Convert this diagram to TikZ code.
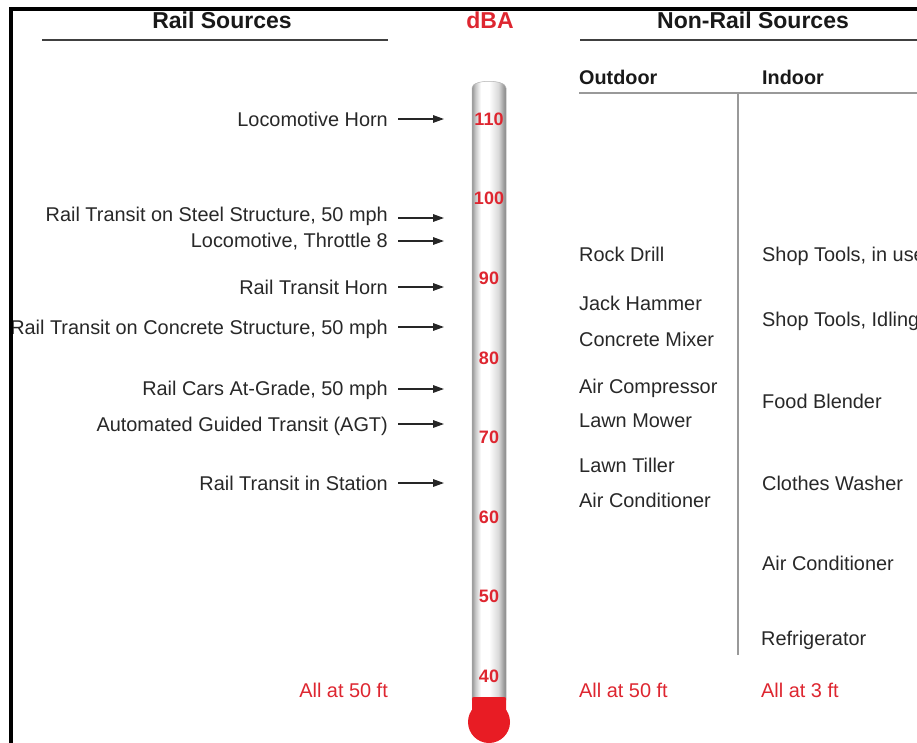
\documentclass[tikz,border=0pt]{standalone}
\usepackage{fontspec}
\setmainfont{Liberation Sans}
\usetikzlibrary{arrows.meta}
\definecolor{thred}{RGB}{232,28,36}
\definecolor{txtred}{RGB}{222,38,48}
\definecolor{txtgray}{RGB}{40,40,40}
\pgfdeclarehorizontalshading{tubeshade}{100bp}{color(0bp)=(black!42); color(25bp)=(black!42); color(30bp)=(black!22); color(38bp)=(white); color(50bp)=(white); color(64bp)=(black!15); color(72bp)=(black!40); color(75bp)=(black!48); color(100bp)=(black!48)}
\begin{document}
\begin{tikzpicture}[x=1pt,y=-1pt,
  lab/.style={font=\fontsize{19.9}{23}\selectfont, inner sep=0pt, text=txtgray},
  hdr/.style={font=\fontsize{23}{27}\selectfont\bfseries, inner sep=0pt, text=black!90},
  subhdr/.style={font=\fontsize{19.8}{23}\selectfont\bfseries, inner sep=0pt, text=black!90},
  num/.style={font=\fontsize{18}{21}\selectfont\bfseries, inner sep=0pt, text=txtred},
  redlab/.style={font=\fontsize{19.9}{23}\selectfont, inner sep=0pt, text=txtred},
  arr/.style={-{Triangle[length=11pt,width=7.5pt]}, line width=1.5pt, black!85},
  rule/.style={line width=2pt, black!75},
  gline/.style={line width=1.5pt, black!40}]
\useasboundingbox (0,0) rectangle (917,742);
\clip (0,0) rectangle (917,742);
\fill[white] (0,0) rectangle (917,742);

% headers
\node[hdr, anchor=base] (hrail) at (222,28) {Rail Sources};
\node[hdr, anchor=base, text=txtred] (hdba) at (490,28) {dBA};
\node[hdr, anchor=base] (hnon) at (753,28) {Non-Rail Sources};
\draw[rule] (42,40) -- (388,40);
\draw[rule] (580,40) -- (920,40);

% thermometer
\shade[shading=tubeshade] (472,700) -- (472,88) .. controls (472,79) and (506,79) .. (506,88) -- (506,700) -- cycle;
\draw[black!30, line width=0.5pt] (472,700) -- (472,88) .. controls (472,79) and (506,79) .. (506,88) -- (506,700);
\fill[thred] (472,700) .. controls (472,697) .. (475,697) -- (503,697) .. controls (506,697) .. (506,700) -- (506,712) -- (472,712) -- cycle;
\fill[thred] (489,722) circle[radius=21pt];
\coordinate (tip) at (444,0);

\foreach \v/\y in {110/119,100/198,90/278,80/358,70/437,60/517,50/596,40/676}
  \node[num, anchor=base] (n\v) at (489,\y+6.5) {\v};

% rail sources
\node[lab, anchor=base east] (r1) at (388,126) {Locomotive Horn};
\node[lab, anchor=base east] (r2) at (388,221) {Rail Transit on Steel Structure, 50 mph};
\node[lab, anchor=base east] (r3) at (388,247) {Locomotive, Throttle 8};
\node[lab, anchor=base east] (r4) at (388,294) {Rail Transit Horn};
\node[lab, anchor=base east] (r5) at (388,334) {Rail Transit on Concrete Structure, 50 mph};
\node[lab, anchor=base east] (r6) at (388,395) {Rail Cars At-Grade, 50 mph};
\node[lab, anchor=base east] (r7) at (388,431) {Automated Guided Transit (AGT)};
\node[lab, anchor=base east] (r8) at (388,490) {Rail Transit in Station};
\node[redlab, anchor=base east] (r9) at (388,697) {All at 50 ft};

\coordinate (a1) at (398,119);
\coordinate (a2) at (398,218);
\coordinate (a3) at (398,241);
\coordinate (a4) at (398,287);
\coordinate (a5) at (398,327);
\coordinate (a6) at (398,389);
\coordinate (a7) at (398,424);
\coordinate (a8) at (398,483);
\foreach \i in {1,...,8}
  \draw[arr] (a\i) -- (a\i -| tip);

% frame
\draw[line width=4pt, black] (10.5,760) -- (10.5,9) -- (930,9);

% non-rail sources
\node[subhdr, anchor=base west] (out) at (579,84) {Outdoor};
\node[subhdr, anchor=base west] (ind) at (762,84) {Indoor};
\draw[gline] (579,93) -- (920,93);
\draw[gline] (738,93) -- (738,655);

\node[lab, anchor=base west] (o1) at (579,261) {Rock Drill};
\node[lab, anchor=base west] (o2) at (579,310) {Jack Hammer};
\node[lab, anchor=base west] (o3) at (579,346) {Concrete Mixer};
\node[lab, anchor=base west] (o4) at (579,393) {Air Compressor};
\node[lab, anchor=base west] (o5) at (579,427) {Lawn Mower};
\node[lab, anchor=base west] (o6) at (579,472) {Lawn Tiller};
\node[lab, anchor=base west] (o7) at (579,507) {Air Conditioner};
\node[redlab, anchor=base west] (o8) at (579,697) {All at 50 ft};

\node[lab, anchor=base west] (i1) at (762,261) {Shop Tools, in use};
\node[lab, anchor=base west] (i2) at (762,326) {Shop Tools, Idling};
\node[lab, anchor=base west] (i3) at (762,408) {Food Blender};
\node[lab, anchor=base west] (i4) at (762,490) {Clothes Washer};
\node[lab, anchor=base west] (i5) at (762,570) {Air Conditioner};
\node[lab, anchor=base west] (i6) at (761,645) {Refrigerator};
\node[redlab, anchor=base west] (i7) at (761,697) {All at 3 ft};
\end{tikzpicture}
\end{document}
